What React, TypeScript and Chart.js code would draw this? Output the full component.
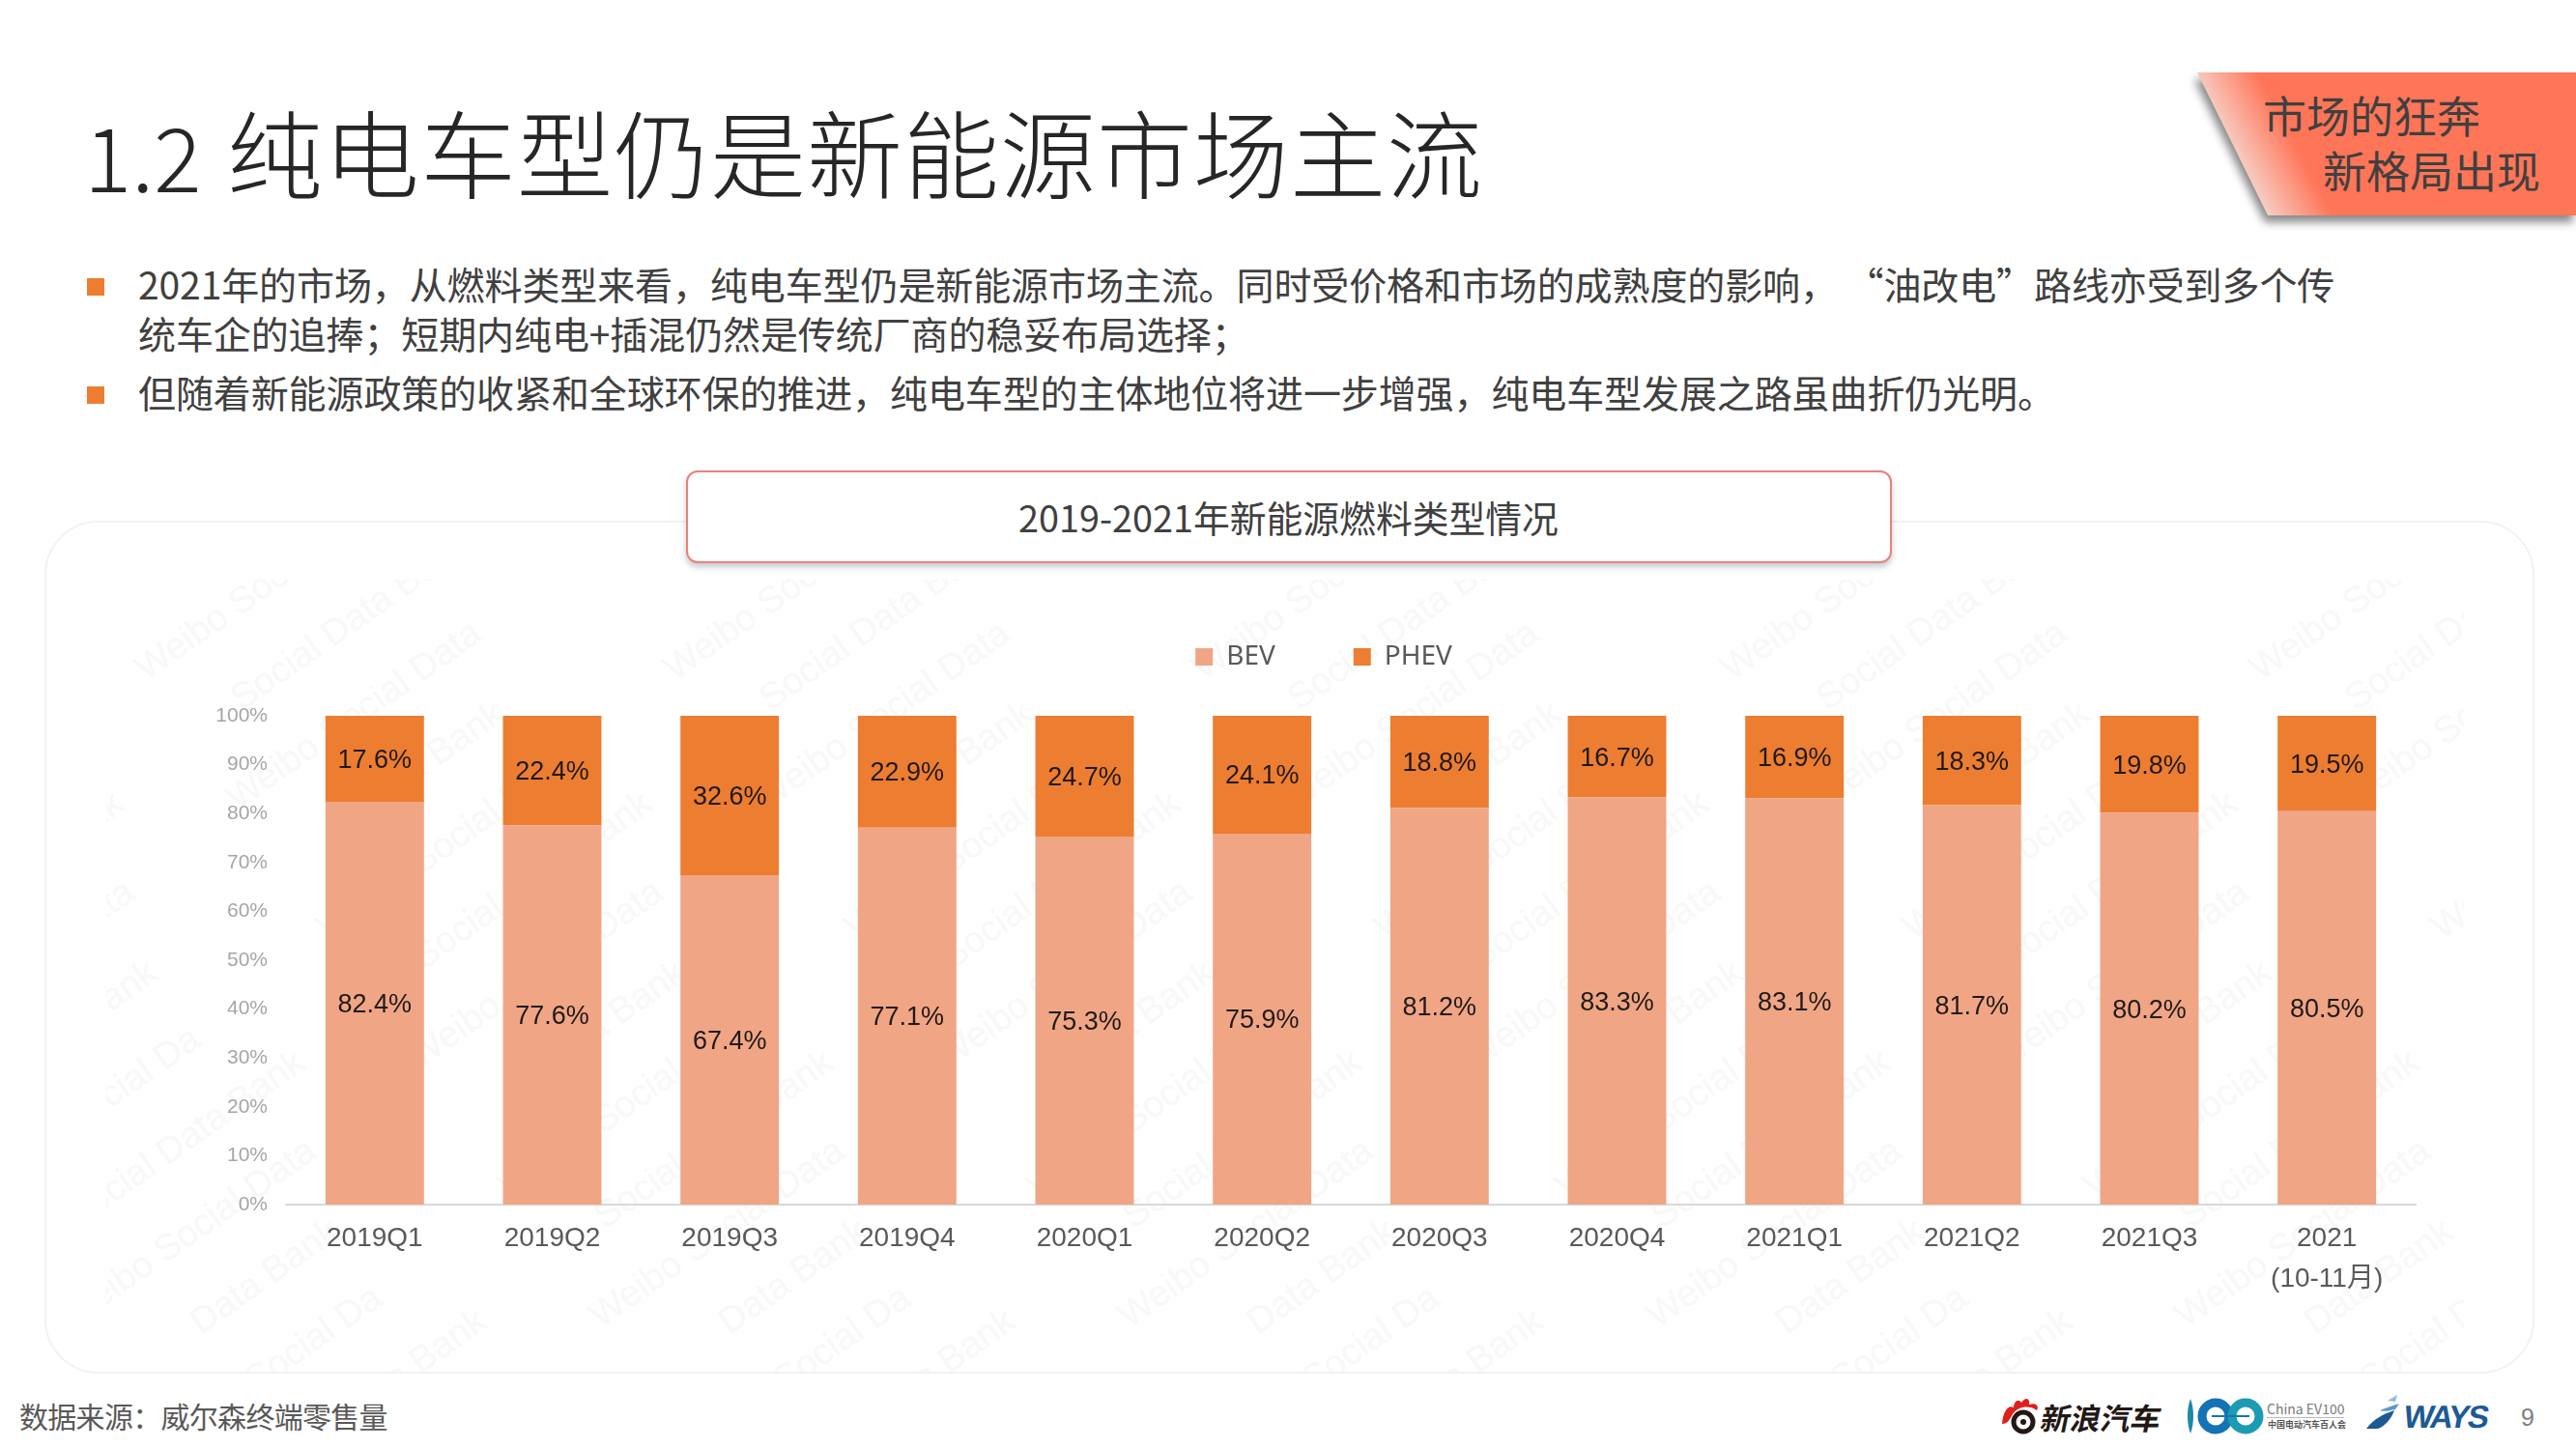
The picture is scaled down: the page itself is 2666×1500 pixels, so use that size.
import { useEffect, useRef } from 'react';
import { Chart, registerables } from 'chart.js';

Chart.register(...registerables);

const CATEGORIES: (string | string[])[] = [
  '2019Q1', '2019Q2', '2019Q3', '2019Q4',
  '2020Q1', '2020Q2', '2020Q3', '2020Q4',
  '2021Q1', '2021Q2', '2021Q3', ['2021', '(10-11月)'],
];
const BEV = [82.4, 77.6, 67.4, 77.1, 75.3, 75.9, 81.2, 83.3, 83.1, 81.7, 80.2, 80.5];
const PHEV = [17.6, 22.4, 32.6, 22.9, 24.7, 24.1, 18.8, 16.7, 16.9, 18.3, 19.8, 19.5];

const BODY_LINES = [
  '2021年的市场\uFF0C从燃料类型来看\uFF0C纯电车型仍是新能源市场主流。同时受价格和市场的成熟度的影响\uFF0C \u201C油改电\u201D路线亦受到多个传',
  '统车企的追捧\uFF1B短期内纯电+插混仍然是传统厂商的稳妥布局选择\uFF1B',
  '但随着新能源政策的收紧和全球环保的推进\uFF0C纯电车型的主体地位将进一步增强\uFF0C纯电车型发展之路虽曲折仍光明。',
];
const SOURCE_NOTE = '数据来源\uFF1A威尔森终端零售量';
const WATERMARK_PIECES = ['Weibo Social Data', '          Data Bank', 'Weibo Social Da', '      Social Data Bank'];

const CJK = '"Noto Sans CJK SC", "Noto Sans", sans-serif';
const ARIAL = '"Liberation Sans", "Noto Sans CJK SC", sans-serif';

const barLabels = {
  id: 'barLabels',
  afterDatasetsDraw(chart: Chart) {
    const { ctx } = chart;
    ctx.save();
    ctx.font = `27px ${ARIAL}`;
    ctx.fillStyle = '#1f1a17';
    ctx.textAlign = 'center';
    ctx.textBaseline = 'middle';
    chart.data.datasets.forEach((ds, i) => {
      chart.getDatasetMeta(i).data.forEach((bar, j) => {
        const p = bar.getCenterPoint();
        ctx.fillText(`${(ds.data[j] as number).toFixed(1)}%`, p.x, p.y + 2);
      });
    });
    ctx.restore();
  },
};

function Txt({ x, y, size, color = '#404040', weight = 400, spacing = 0, font = CJK, children }: any) {
  return (
    <div style={{
      position: 'absolute', left: x, top: y - size, height: size * 2, lineHeight: `${size * 2}px`,
      fontSize: size, color, fontWeight: weight, letterSpacing: spacing, fontFamily: font, whiteSpace: 'pre',
    }}>{children}</div>
  );
}

function Watermark() {
  const marks = [];
  for (let j = 0; j < 16; j++) {
    for (let i = -2; i < 6; i++) {
      marks.push(
        <span key={`${i}-${j}`} style={{
          position: 'absolute', left: -60 + i * 547 + j * 47, top: -60 + j * 67,
          transform: 'rotate(-35deg)', transformOrigin: 'left center',
          fontFamily: ARIAL, fontSize: 38, color: '#f8f8f8', whiteSpace: 'pre',
        }}>{WATERMARK_PIECES[j % 4]}</span>,
      );
    }
  }
  return <div style={{ position: 'absolute', left: 110, top: 600, width: 2440, height: 820, overflow: 'hidden' }}>{marks}</div>;
}

function Logos() {
  return (
    <>
      <svg style={{ position: 'absolute', left: 2070, top: 1444, width: 44, height: 44 }} viewBox="0 0 44 44">
        <path d="M2 30 C3 18 8 10 14 13 C14 7 19 3 22 8 C26 2 31 3 30 10 C36 8 41 11 38 16 C30 10 18 12 13 20 C10 25 8 30 2 30 Z" fill="#e0201b" />
        <circle cx="24" cy="28" r="10" fill="none" stroke="#231815" strokeWidth="5" />
        <circle cx="24" cy="28" r="3" fill="#231815" />
      </svg>
      <Txt x={2113} y={1467} size={31} color="#231815" weight={700} font={CJK}>
        <span style={{ display: 'inline-block', transform: 'skewX(-12deg)' }}>新浪汽车</span>
      </Txt>
      <svg style={{ position: 'absolute', left: 2264, top: 1446, width: 80, height: 40 }} viewBox="0 0 80 40">
        <path d="M3 2 C-1 12 -1 28 3 38 C7 28 7 12 3 2 Z" fill="#1b8aa8" />
        <circle cx="29" cy="20" r="14" fill="none" stroke="#1473b5" strokeWidth="9" />
        <circle cx="60" cy="20" r="14" fill="none" stroke="#1c9bb3" strokeWidth="9" />
        <path d="M25 20 H64" stroke="#1473b5" strokeWidth="2" />
      </svg>
      <Txt x={2346} y={1458} size={14} color="#7b7b7b">China EV100</Txt>
      <div style={{ position: 'absolute', left: 2346, top: 1467, width: 80, height: 1, background: '#bbb' }} />
      <Txt x={2347} y={1475} size={9} color="#555" weight={700}>中国电动汽车百人会</Txt>
      <svg style={{ position: 'absolute', left: 2449, top: 1444, width: 36, height: 36 }} viewBox="0 0 36 36">
        <path d="M0 35 C8 24 18 20 29 16 C26 24 20 32 12 35 Z" fill="#1d5a94" />
        <path d="M14 16 C20 14 26 11 34 9 L30 15 C24 16 20 18 14 16 Z" fill="#5b9bc9" />
        <path d="M22 6 L32 0 L30 7 Z" fill="#8fbcdc" />
      </svg>
      <Txt x={2488} y={1467} size={33} color="#1d5a94" weight={700} spacing={-2} font={ARIAL}>
        <span style={{ display: 'inline-block', transform: 'skewX(-10deg)' }}>WAYS</span>
      </Txt>
    </>
  );
}

export default function App() {
  const canvasRef = useRef<HTMLCanvasElement>(null);

  useEffect(() => {
    if (!canvasRef.current) return;
    const chart = new Chart(canvasRef.current, {
      type: 'bar',
      data: {
        labels: CATEGORIES,
        datasets: [
          { label: 'BEV', data: BEV, backgroundColor: '#F0A585', borderWidth: 0 },
          { label: 'PHEV', data: PHEV, backgroundColor: '#ED7D31', borderWidth: 0 },
        ],
      },
      options: {
        responsive: false,
        animation: false,
        devicePixelRatio: 1,
        datasets: { bar: { barPercentage: 0.555, categoryPercentage: 1 } },
        plugins: {
          tooltip: { enabled: false },
          // blank title is only a spacer between the legend and the plot
          title: { display: true, text: ' ', padding: 0, font: { size: 37, lineHeight: 1 } },
          legend: {
            position: 'top',
            weight: 3000,
            labels: {
              boxWidth: 18,
              boxHeight: 18,
              padding: 81,
              color: '#595959',
              font: { size: 28, family: '"Noto Sans", sans-serif' },
            },
          },
        },
        scales: {
          x: {
            stacked: true,
            grid: { display: false },
            border: { color: '#d9d9d9', width: 2 },
            ticks: {
              color: '#595959',
              padding: 6,
              maxRotation: 0,
              autoSkip: false,
              font: { size: 28, family: ARIAL, lineHeight: 1.5 },
            },
            afterFit: (s: any) => { s.height = 136; },
          },
          y: {
            stacked: true,
            min: 0,
            max: 100,
            grid: { display: false, drawTicks: false },
            border: { display: false },
            ticks: {
              stepSize: 10,
              color: '#a6a6a6',
              padding: 19,
              font: { size: 21, family: ARIAL },
              callback: (v) => `${v}%`,
            },
            afterFit: (s: any) => { s.width = 196; },
          },
          // empty right axis keeps the legend centred on the canvas, not on the plot
          right: {
            position: 'right',
            grid: { display: false, drawTicks: false },
            border: { display: false },
            ticks: { display: false },
            afterFit: (s: any) => { s.width = 140; },
          },
        },
      },
      plugins: [barLabels],
    });
    return () => { chart.destroy(); };
  }, []);

  return (
    <div style={{ position: 'absolute', left: 0, top: 0, width: 2666, height: 1500, background: '#fff', overflow: 'hidden' }}>
      <Txt x={87} y={159} size={92} color="#262626" weight={300}>1.2</Txt>
      <Txt x={235} y={155} size={99} color="#262626" weight={300} spacing={1}>纯电车型仍是新能源市场主流</Txt>

      <div style={{ position: 'absolute', left: 2274, top: 75, width: 392, height: 155, filter: 'drop-shadow(-3px 7px 5px rgba(70,70,70,0.65))' }}>
        <div style={{
          width: 392, height: 148,
          clipPath: 'polygon(0 0, 100% 0, 100% 100%, 73px 100%)',
          background: 'linear-gradient(62deg, #f6d6cf 14%, #ff7558 30%)',
        }} />
      </div>
      <Txt x={2342} y={119} size={45} color="#404040">市场的狂奔</Txt>
      <Txt x={2404} y={176} size={45} color="#404040">新格局出现</Txt>

      <div style={{ position: 'absolute', left: 90, top: 288, width: 18, height: 18, background: '#ED7D31' }} />
      <div style={{ position: 'absolute', left: 90, top: 400, width: 18, height: 18, background: '#ED7D31' }} />
      <Txt x={143} y={293} size={39} spacing={-0.1}>{BODY_LINES[0]}</Txt>
      <Txt x={143} y={344} size={39} spacing={-0.1}>{BODY_LINES[1]}</Txt>
      <Txt x={143} y={405} size={39} spacing={-0.1}>{BODY_LINES[2]}</Txt>

      <div style={{ position: 'absolute', left: 46, top: 539, width: 2577, height: 883, boxSizing: 'border-box', border: '2px solid #f2f2f2', borderRadius: 56 }} />
      <Watermark />

      <div style={{
        position: 'absolute', left: 710, top: 487, width: 1248, height: 96, boxSizing: 'border-box', background: '#fff',
        border: '2px solid #ee8078', borderRadius: 12, boxShadow: '0 4px 6px rgba(120,140,150,0.45)',
      }} />
      <Txt x={1054} y={535} size={37.8} color="#404040">2019-2021年新能源燃料类型情况</Txt>

      <canvas ref={canvasRef} width={2540} height={798} style={{ position: 'absolute', left: 100, top: 585, width: 2540, height: 798 }} />

      <Txt x={20} y={1465} size={30} color="#595959" spacing={-0.7}>{SOURCE_NOTE}</Txt>
      <Logos />
      <Txt x={2609} y={1467} size={25} color="#7f7f7f" font={ARIAL}>9</Txt>
    </div>
  );
}
